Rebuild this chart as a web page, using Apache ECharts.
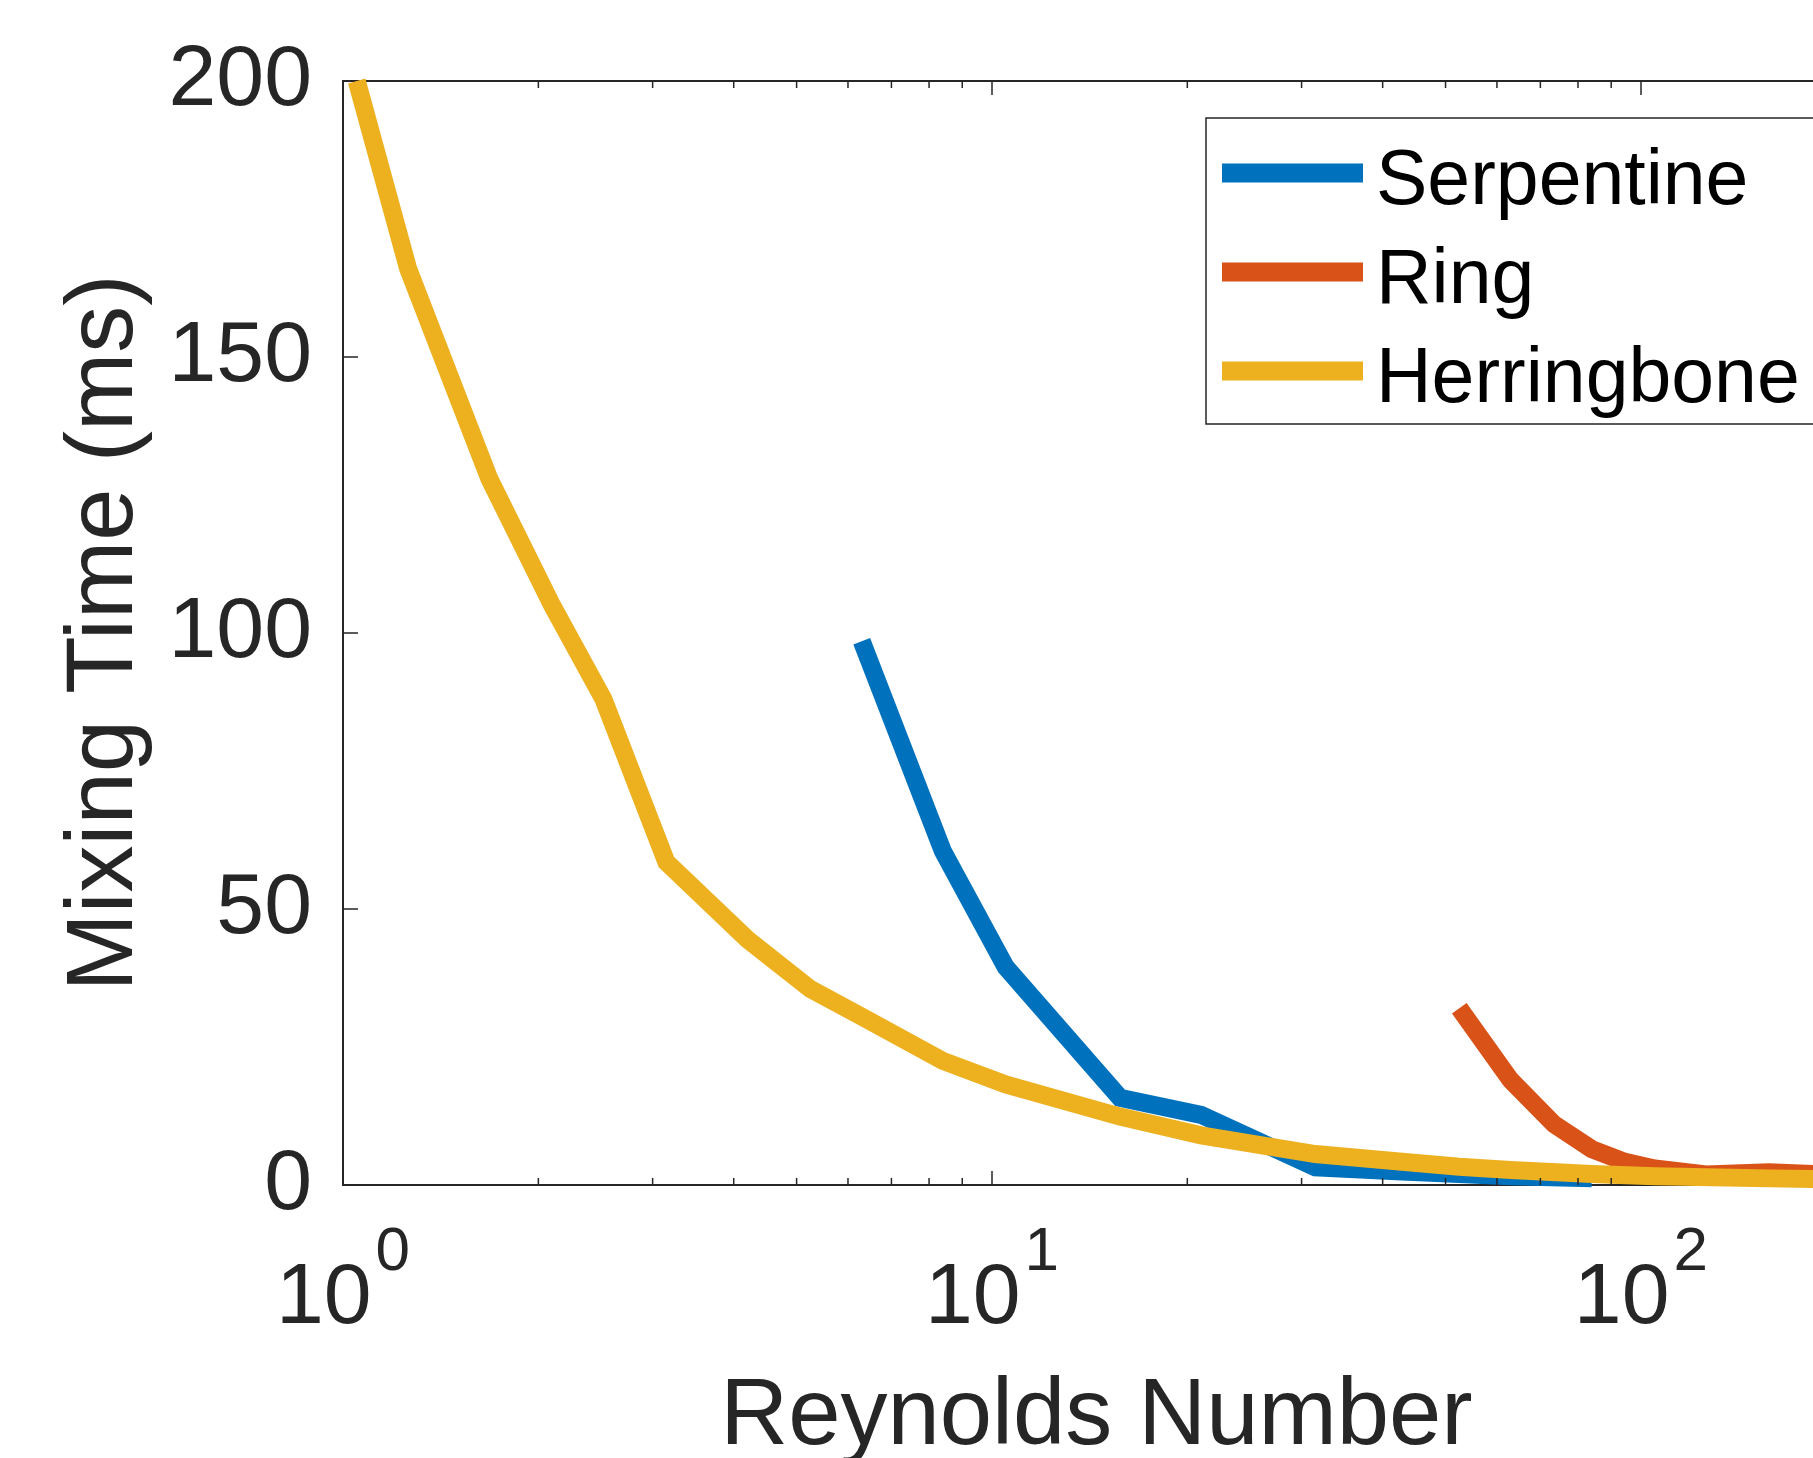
<!DOCTYPE html>
<html><head><meta charset="utf-8">
<script src="https://cdn.jsdelivr.net/npm/echarts@6/dist/echarts.min.js"></script>
<style>html,body{margin:0;padding:0;background:#fff}#c{width:1813px;height:1458px}</style>
</head><body><div id="c"></div>
<script>
// Data
const seriesNames = ['Serpentine', 'Ring', 'Herringbone'];
const reSerpentine = [6.3, 8.4, 10.5, 15.75, 21, 31.5, 42, 52.5, 63, 84];
const mtSerpentine = [98.5, 60.5, 39.5, 15.8, 12.7, 3.2, 2.5, 2.0, 1.6, 1.2];
const reRing = [52.5, 63, 73.5, 84, 94.5, 105, 126, 157.5, 210];
const mtRing = [32, 19, 11, 6.5, 4.2, 3.0, 1.9, 2.3, 1.7];
const reHerringbone = [1.05, 1.26, 1.68, 2.1, 2.52, 3.15, 4.2, 5.25, 6.3, 8.4, 10.5, 15.75, 21, 31.5, 42, 52.5, 63, 84, 105, 157.5, 210];
const mtHerringbone = [200, 166, 128, 105, 88, 58.5, 44.5, 35.5, 30.5, 22.5, 18.2, 12.4, 9.0, 5.6, 4.3, 3.3, 2.7, 2.0, 1.6, 1.2, 1.0];
const xMinorTicks = [2, 3, 4, 5, 6, 7, 8, 9, 20, 30, 40, 50, 60, 70, 80, 90, 200];
const xMin = 1, xMax = 210;
const yMin = 0, yMax = 200, yStep = 50;

const colors = ['#0072BD', '#D95319', '#EDB120'];
const axisColor = '#262626';
const font = 'Liberation Sans, Arial, Helvetica, sans-serif';

function zip(xs, ys) { return xs.map((x, i) => [x, ys[i]]); }

const chart = echarts.init(document.getElementById('c'), null, {renderer: 'canvas'});

const lineSeries = [
  [reSerpentine, mtSerpentine],
  [reRing, mtRing],
  [reHerringbone, mtHerringbone]
].map((d, i) => ({
  name: seriesNames[i],
  type: 'line',
  xAxisIndex: 0, yAxisIndex: 0,
  data: zip(d[0], d[1]),
  symbol: 'none', showSymbol: false,
  lineStyle: {width: 18, color: colors[i], cap: 'butt', join: 'miter'},
  itemStyle: {color: colors[i]},
  z: 3 + i,
  clip: true
}));

const tickSeries = {
  type: 'custom',
  xAxisIndex: 0, yAxisIndex: 0,
  silent: true, clip: false, z: 10,
  data: xMinorTicks.map(v => [v, yMin]),
  renderItem: function (params, api) {
    const x = api.value(0);
    const b = api.coord([x, yMin]);
    const t = api.coord([x, yMax]);
    return {
      type: 'group',
      children: [
        {type: 'line', shape: {x1: b[0], y1: b[1], x2: b[0], y2: b[1] - 7}, style: {stroke: axisColor, lineWidth: 1.5}},
        {type: 'line', shape: {x1: t[0], y1: t[1], x2: t[0], y2: t[1] + 7}, style: {stroke: axisColor, lineWidth: 1.5}}
      ]
    };
  }
};

const option = {
  animation: false,
  backgroundColor: '#fff',
  grid: {left: 343, top: 81, width: 1507, height: 1104, containLabel: false, outerBoundsMode: 'none'},
  legend: {
    data: seriesNames,
    orient: 'vertical',
    left: 1206, top: 118,
    itemWidth: 141, itemHeight: 19, itemGap: 22,
    icon: 'rect',
    padding: [26, 40, 5, 16],
    borderColor: axisColor, borderWidth: 1.5,
    backgroundColor: '#fff',
    selectedMode: false,
    formatter: function (name) { return '{sp| }{a|' + name + '}'; },
    textStyle: {
      fontFamily: font, fontSize: 77, color: '#000',
      rich: {
        sp: {fontSize: 1, lineHeight: 96, width: 8},
        a: {fontFamily: font, fontSize: 77, color: '#000', lineHeight: 80, verticalAlign: 'bottom'}
      }
    }
  },
  xAxis: [
    {
      type: 'log', logBase: 10, min: xMin, max: xMax,
      position: 'bottom',
      name: 'Reynolds Number', nameLocation: 'middle', nameGap: 186,
      nameTextStyle: {fontFamily: font, fontSize: 94, color: axisColor},
      axisLine: {show: true, lineStyle: {color: axisColor, width: 2}},
      axisTick: {show: true, inside: true, length: 14, lineStyle: {color: axisColor, width: 1.5}},
      splitLine: {show: false},
      minorTick: {show: false},
      axisLabel: {
        show: true, margin: 37, showMaxLabel: false,
        formatter: function (v) {
          const e = Math.round(Math.log10(v));
          return '{b|10}{s|' + e + '}';
        },
        rich: {
          b: {fontFamily: font, fontSize: 86, color: axisColor, lineHeight: 120, verticalAlign: 'bottom'},
          s: {fontFamily: font, fontSize: 62, color: axisColor, lineHeight: 50, verticalAlign: 'top', padding: [0, 0, 0, 4]}
        }
      }
    },
    {
      type: 'log', logBase: 10, min: xMin, max: xMax,
      position: 'top',
      axisLine: {show: true, lineStyle: {color: axisColor, width: 2}},
      axisTick: {show: true, inside: true, length: 14, lineStyle: {color: axisColor, width: 1.5}},
      axisLabel: {show: false},
      splitLine: {show: false}
    }
  ],
  yAxis: [{
    type: 'value', min: yMin, max: yMax, interval: yStep,
    name: 'Mixing Time (ms)', nameLocation: 'middle', nameGap: 190,
    nameTextStyle: {fontFamily: font, fontSize: 94, color: axisColor},
    axisLine: {show: true, lineStyle: {color: axisColor, width: 2}},
    axisTick: {show: true, inside: true, length: 15, lineStyle: {color: axisColor, width: 1.5}},
    splitLine: {show: false},
    axisLabel: {fontFamily: font, fontSize: 86, color: axisColor, margin: 31}
  }],
  series: lineSeries.concat([tickSeries])
};

chart.setOption(option);
</script></body></html>
